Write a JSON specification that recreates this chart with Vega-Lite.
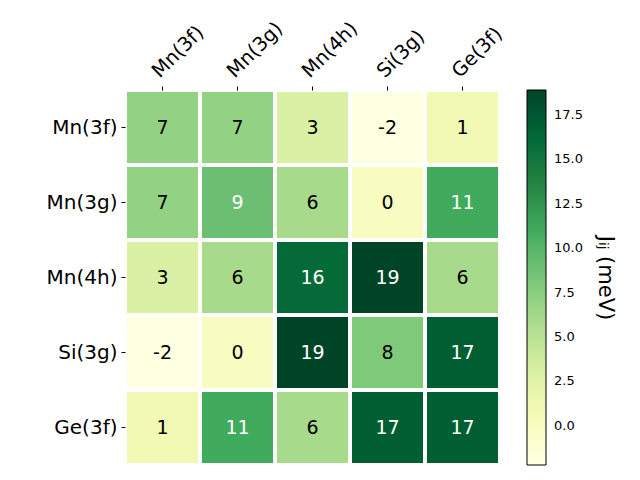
{
  "$schema": "https://vega.github.io/schema/vega-lite/v6.json",
  "width": 375,
  "height": 375,
  "autosize": {"type": "none"},
  "padding": {"left": 125, "top": 90, "right": 140, "bottom": 15},
  "background": "white",
  "config": {"view": {"stroke": null}, "font": "DejaVu Sans"},
  "data": {"values": [
    {"row": "Mn(3f)", "col": "Mn(3f)", "v": 7},
    {"row": "Mn(3f)", "col": "Mn(3g)", "v": 7},
    {"row": "Mn(3f)", "col": "Mn(4h)", "v": 3},
    {"row": "Mn(3f)", "col": "Si(3g)", "v": -2},
    {"row": "Mn(3f)", "col": "Ge(3f)", "v": 1},
    {"row": "Mn(3g)", "col": "Mn(3f)", "v": 7},
    {"row": "Mn(3g)", "col": "Mn(3g)", "v": 9},
    {"row": "Mn(3g)", "col": "Mn(4h)", "v": 6},
    {"row": "Mn(3g)", "col": "Si(3g)", "v": 0},
    {"row": "Mn(3g)", "col": "Ge(3f)", "v": 11},
    {"row": "Mn(4h)", "col": "Mn(3f)", "v": 3},
    {"row": "Mn(4h)", "col": "Mn(3g)", "v": 6},
    {"row": "Mn(4h)", "col": "Mn(4h)", "v": 16},
    {"row": "Mn(4h)", "col": "Si(3g)", "v": 19},
    {"row": "Mn(4h)", "col": "Ge(3f)", "v": 6},
    {"row": "Si(3g)", "col": "Mn(3f)", "v": -2},
    {"row": "Si(3g)", "col": "Mn(3g)", "v": 0},
    {"row": "Si(3g)", "col": "Mn(4h)", "v": 19},
    {"row": "Si(3g)", "col": "Si(3g)", "v": 8},
    {"row": "Si(3g)", "col": "Ge(3f)", "v": 17},
    {"row": "Ge(3f)", "col": "Mn(3f)", "v": 1},
    {"row": "Ge(3f)", "col": "Mn(3g)", "v": 11},
    {"row": "Ge(3f)", "col": "Mn(4h)", "v": 6},
    {"row": "Ge(3f)", "col": "Si(3g)", "v": 17},
    {"row": "Ge(3f)", "col": "Ge(3f)", "v": 17}
  ]},
  "encoding": {
    "x": {"field": "col", "type": "nominal", "sort": ["Mn(3f)", "Mn(3g)", "Mn(4h)", "Si(3g)", "Ge(3f)"],
      "scale": {"paddingInner": 0, "paddingOuter": 0},
      "axis": {"orient": "top", "title": null, "labelAngle": -45, "labelAlign": "left", "labelBaseline": "middle",
        "labelFontSize": 19.5, "labelColor": "black", "labelPadding": 12, "domain": false, "tickColor": "black", "tickSize": 4, "labelOffset": -7}},
    "y": {"field": "row", "type": "nominal", "sort": ["Mn(3f)", "Mn(3g)", "Mn(4h)", "Si(3g)", "Ge(3f)"],
      "scale": {"paddingInner": 0, "paddingOuter": 0},
      "axis": {"title": null, "labelFontSize": 20, "labelColor": "black", "labelPadding": 4, "domain": false, "tickColor": "black", "tickSize": 4}}
  },
  "layer": [
    {
      "mark": {"type": "rect", "stroke": "white", "strokeWidth": 4},
      "encoding": {
        "color": {"field": "v", "type": "quantitative",
          "scale": {"domain": [-2.2, 18.9], "range": ["#ffffe5", "#f7fcb9", "#d9f0a3", "#addd8e", "#78c679", "#41ab5d", "#238443", "#006837", "#004529"]},
          "legend": {"title": "Jᵢⱼ (meV)", "titleOrient": "right", "titleAngle": 90, "titleAnchor": "middle",
            "titleFontSize": 21, "titleFontWeight": "normal", "titleColor": "black", "titlePadding": 12,
            "gradientLength": 375, "gradientThickness": 19, "gradientStrokeColor": "black", "gradientStrokeWidth": 1,
            "values": [0, 2.5, 5, 7.5, 10, 12.5, 15, 17.5], "format": ".1f", "labelFontSize": 13, "labelColor": "black",
            "offset": 27, "labelOffset": 8}}
      }
    },
    {
      "mark": {"type": "text", "fontSize": 19},
      "encoding": {
        "text": {"field": "v", "type": "nominal"},
        "color": {"condition": {"test": "datum.v > 8.5", "value": "white"}, "value": "black"}
      }
    }
  ]
}
